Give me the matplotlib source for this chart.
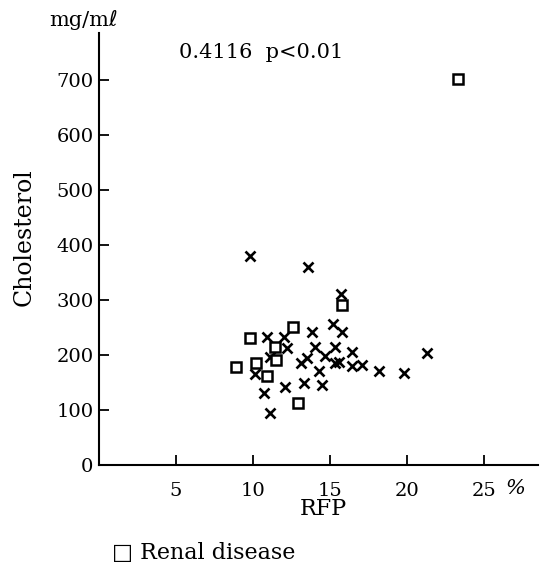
import matplotlib
matplotlib.use("Agg")
import matplotlib.pyplot as plt

plt.rcParams['font.family'] = ['DejaVu Serif', 'DejaVu Sans']

# Data
other_rfp = [9.8, 13.6, 15.7, 15.2, 15.8, 13.8, 10.9, 12.0, 12.2, 14.0, 15.3, 16.4,
             21.3, 11.1, 13.5, 14.7, 13.1, 15.3, 15.6, 16.4, 17.1, 18.2, 19.8, 14.3,
             10.1, 13.3, 14.5, 12.1, 10.7, 11.1]
other_chol = [380, 360, 311, 256, 241, 242, 233, 232, 212, 214, 215, 205,
              203, 197, 195, 198, 186, 185, 188, 180, 182, 171, 168, 171,
              165, 149, 145, 142, 131, 95]
renal_rfp = [15.8, 12.6, 9.8, 11.4, 11.5, 10.2, 8.9, 10.9, 12.9, 23.3]
renal_chol = [291, 251, 231, 214, 190, 186, 178, 162, 112, 702]

xticks = [5, 10, 15, 20, 25]
yticks = [0, 100, 200, 300, 400, 500, 600, 700]

fig = plt.figure(figsize=(5.51, 5.70), dpi=100)
ax = fig.add_axes([99/551, 105/570, (538-99)/551, (465-33)/570])
ax.set_xlim(0, 28.5)
ax.set_ylim(0, 785)

ax.plot(other_rfp, other_chol, linestyle='none', marker='x', markersize=7,
        markeredgewidth=1.9, color='black')
ax.plot(renal_rfp, renal_chol, linestyle='none', marker='s', markersize=7,
        markerfacecolor='white', markeredgewidth=1.8, markeredgecolor='black')

for s in ['top', 'right']:
    ax.spines[s].set_visible(False)
for s in ['left', 'bottom']:
    ax.spines[s].set_linewidth(1.5)

ax.set_xticks(xticks)
ax.set_xticklabels([str(v) for v in xticks])
ax.set_yticks(yticks)
ax.set_yticklabels([str(v) for v in yticks])
ax.tick_params(direction='in', length=7, width=1.3, labelsize=14, pad=4)
ax.tick_params(axis='x', pad=12)

ax.text(26.4, -43, '%', fontsize=15, style='italic', ha='left', va='center')

fig.text(323/551, 1 - 509/570, 'RFP', fontsize=16, ha='center', va='center')
fig.text(24/551, 1 - 237/570, 'Cholesterol', fontsize=17, rotation=90,
         ha='center', va='center')
fig.text(49/551, 1 - 20/570, 'mg/m\u2113', fontsize=15, ha='left', va='center')
fig.text(179/551, 1 - 52/570, '0.4116  p<0.01', fontsize=15, ha='left', va='center')
fig.text(112/551, 1 - 553/570, '\u25a1 Renal disease', fontsize=16, ha='left',
         va='center')

fig.savefig('out.png', dpi=100)
